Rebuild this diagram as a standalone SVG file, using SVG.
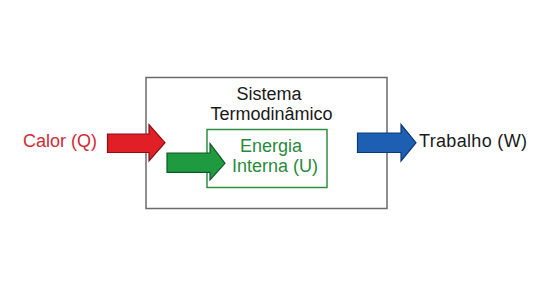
<svg xmlns="http://www.w3.org/2000/svg" width="542" height="287" viewBox="0 0 542 287">
<style>
text{font-family:"Liberation Sans",Arial,sans-serif;font-size:18px}
.box{fill:#fff;stroke:#6a6a6a;stroke-width:1.5}
.inner{fill:#fff;stroke:#2f8f45;stroke-width:1.5}
.arrow{stroke-width:1.2;stroke-linejoin:miter}
</style>
<rect width="542" height="287" fill="#fff"/>
<g id="sistema">
<rect class="box" x="146" y="77.5" width="241" height="131"/>
<text x="269" y="100" text-anchor="middle" font-size="19" fill="#1a1a1a">Sistema</text>
<text x="271.5" y="120" text-anchor="middle" font-size="19" fill="#1a1a1a">Termodinâmico</text>
</g>
<g id="energia">
<rect class="inner" x="207" y="129.5" width="120" height="58"/>
<text x="271" y="151.5" text-anchor="middle" fill="#2a8a3c">Energia</text>
<text x="275" y="171.5" text-anchor="middle" fill="#2a8a3c">Interna (U)</text>
</g>
<g id="calor">
<text x="23" y="146.5" fill="#cf2b36">Calor (Q)</text>
</g>
<g id="trabalho">
<text x="419" y="146.5" fill="#1a1a1a" textLength="108">Trabalho (W)</text>
</g>
<g id="connectors">
<polygon class="arrow" fill="#e01f26" stroke="#8a1015" points="107.5,134 149,134 149,124.5 165,142.7 149,161 149,152.5 107.5,152.5"/>
<polygon class="arrow" fill="#1f9a40" stroke="#0f5a22" points="167,153 210,153 210,143.5 225,163.3 210,180 210,172.3 167,172.3"/>
<polygon class="arrow" fill="#1d5fb3" stroke="#0e3a72" points="357.5,133 401,133 401,124.5 416,142.7 401,161 401,152.5 357.5,152.5"/>
</g>
</svg>
